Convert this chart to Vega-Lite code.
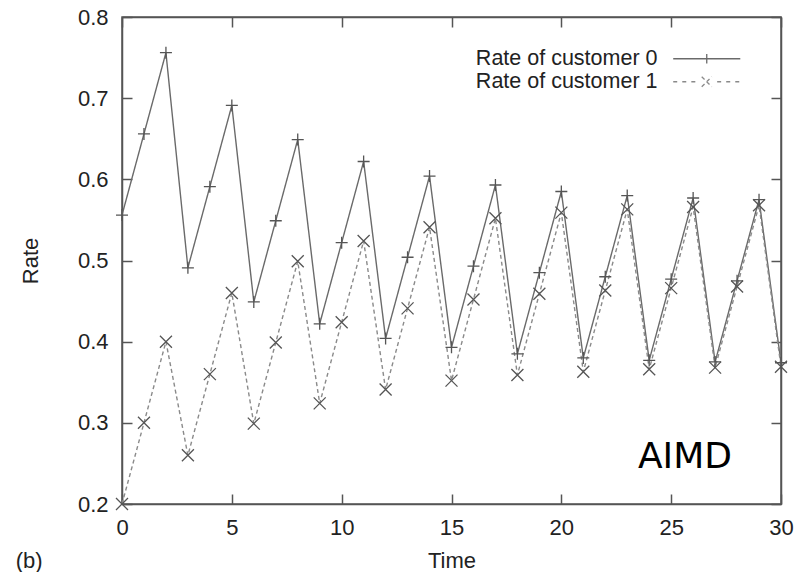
{
  "$schema": "https://vega.github.io/schema/vega-lite/v6.json",
  "width": 659,
  "height": 487,
  "autosize": {"type": "none"},
  "padding": {"left": 122, "top": 17, "right": 21, "bottom": 68},
  "background": "white",
  "config": {
    "view": {"stroke": "#555555", "strokeWidth": 1.5},
    "axis": {
      "grid": false,
      "labelFlush": false,
      "domainColor": "#555555",
      "domainWidth": 1.5,
      "tickColor": "#555555",
      "tickWidth": 1.5,
      "labelFont": "Liberation Sans",
      "labelFontSize": 22,
      "labelColor": "#222222",
      "titleFont": "Liberation Sans",
      "titleFontSize": 22,
      "titleFontWeight": "normal",
      "titleColor": "#222222"
    }
  },
  "datasets": {
    "rates": [
      {"t": 0, "rate": 0.556, "series": "Rate of customer 0"},
      {"t": 1, "rate": 0.656, "series": "Rate of customer 0"},
      {"t": 2, "rate": 0.756, "series": "Rate of customer 0"},
      {"t": 3, "rate": 0.491, "series": "Rate of customer 0"},
      {"t": 4, "rate": 0.591, "series": "Rate of customer 0"},
      {"t": 5, "rate": 0.691, "series": "Rate of customer 0"},
      {"t": 6, "rate": 0.449, "series": "Rate of customer 0"},
      {"t": 7, "rate": 0.549, "series": "Rate of customer 0"},
      {"t": 8, "rate": 0.649, "series": "Rate of customer 0"},
      {"t": 9, "rate": 0.422, "series": "Rate of customer 0"},
      {"t": 10, "rate": 0.522, "series": "Rate of customer 0"},
      {"t": 11, "rate": 0.622, "series": "Rate of customer 0"},
      {"t": 12, "rate": 0.404, "series": "Rate of customer 0"},
      {"t": 13, "rate": 0.504, "series": "Rate of customer 0"},
      {"t": 14, "rate": 0.604, "series": "Rate of customer 0"},
      {"t": 15, "rate": 0.393, "series": "Rate of customer 0"},
      {"t": 16, "rate": 0.493, "series": "Rate of customer 0"},
      {"t": 17, "rate": 0.593, "series": "Rate of customer 0"},
      {"t": 18, "rate": 0.385, "series": "Rate of customer 0"},
      {"t": 19, "rate": 0.485, "series": "Rate of customer 0"},
      {"t": 20, "rate": 0.585, "series": "Rate of customer 0"},
      {"t": 21, "rate": 0.380, "series": "Rate of customer 0"},
      {"t": 22, "rate": 0.480, "series": "Rate of customer 0"},
      {"t": 23, "rate": 0.580, "series": "Rate of customer 0"},
      {"t": 24, "rate": 0.377, "series": "Rate of customer 0"},
      {"t": 25, "rate": 0.477, "series": "Rate of customer 0"},
      {"t": 26, "rate": 0.577, "series": "Rate of customer 0"},
      {"t": 27, "rate": 0.375, "series": "Rate of customer 0"},
      {"t": 28, "rate": 0.475, "series": "Rate of customer 0"},
      {"t": 29, "rate": 0.575, "series": "Rate of customer 0"},
      {"t": 30, "rate": 0.374, "series": "Rate of customer 0"},
      {"t": 0, "rate": 0.200, "series": "Rate of customer 1"},
      {"t": 1, "rate": 0.300, "series": "Rate of customer 1"},
      {"t": 2, "rate": 0.400, "series": "Rate of customer 1"},
      {"t": 3, "rate": 0.260, "series": "Rate of customer 1"},
      {"t": 4, "rate": 0.360, "series": "Rate of customer 1"},
      {"t": 5, "rate": 0.460, "series": "Rate of customer 1"},
      {"t": 6, "rate": 0.299, "series": "Rate of customer 1"},
      {"t": 7, "rate": 0.399, "series": "Rate of customer 1"},
      {"t": 8, "rate": 0.499, "series": "Rate of customer 1"},
      {"t": 9, "rate": 0.324, "series": "Rate of customer 1"},
      {"t": 10, "rate": 0.424, "series": "Rate of customer 1"},
      {"t": 11, "rate": 0.524, "series": "Rate of customer 1"},
      {"t": 12, "rate": 0.341, "series": "Rate of customer 1"},
      {"t": 13, "rate": 0.441, "series": "Rate of customer 1"},
      {"t": 14, "rate": 0.541, "series": "Rate of customer 1"},
      {"t": 15, "rate": 0.352, "series": "Rate of customer 1"},
      {"t": 16, "rate": 0.452, "series": "Rate of customer 1"},
      {"t": 17, "rate": 0.552, "series": "Rate of customer 1"},
      {"t": 18, "rate": 0.359, "series": "Rate of customer 1"},
      {"t": 19, "rate": 0.459, "series": "Rate of customer 1"},
      {"t": 20, "rate": 0.559, "series": "Rate of customer 1"},
      {"t": 21, "rate": 0.363, "series": "Rate of customer 1"},
      {"t": 22, "rate": 0.463, "series": "Rate of customer 1"},
      {"t": 23, "rate": 0.563, "series": "Rate of customer 1"},
      {"t": 24, "rate": 0.366, "series": "Rate of customer 1"},
      {"t": 25, "rate": 0.466, "series": "Rate of customer 1"},
      {"t": 26, "rate": 0.566, "series": "Rate of customer 1"},
      {"t": 27, "rate": 0.368, "series": "Rate of customer 1"},
      {"t": 28, "rate": 0.468, "series": "Rate of customer 1"},
      {"t": 29, "rate": 0.568, "series": "Rate of customer 1"},
      {"t": 30, "rate": 0.369, "series": "Rate of customer 1"}
    ],
    "notes": [
      {"note": "AIMD"}
    ],
    "panel": [
      {"note": "(b)"}
    ]
  },
  "layer": [
    {
      "data": {"name": "rates"},
      "mark": {"type": "line", "strokeWidth": 1.4},
      "encoding": {
        "x": {
          "field": "t",
          "type": "quantitative",
          "scale": {"domain": [0, 30], "nice": false, "zero": false},
          "axis": {
            "orient": "bottom",
            "title": "Time",
            "values": [0, 5, 10, 15, 20, 25, 30],
            "format": "d",
            "labelFlush": false,
            "tickSize": -10,
            "labelPadding": 23,
            "titlePadding": 12
          }
        },
        "y": {
          "field": "rate",
          "type": "quantitative",
          "scale": {"domain": [0.2, 0.8], "nice": false, "zero": false},
          "axis": {
            "orient": "left",
            "title": "Rate",
            "values": [0.2, 0.3, 0.4, 0.5, 0.6, 0.7, 0.8],
            "format": ".1f",
            "labelFlush": false,
            "tickSize": -10,
            "labelPadding": 24,
            "titlePadding": 35
          }
        },
        "color": {
          "field": "series",
          "type": "nominal",
          "scale": {"range": ["#6a6a6a", "#8a8a8a"]},
          "legend": {
            "orient": "none",
            "legendX": 574,
            "legendY": 31,
            "title": null,
            "padding": 0,
            "rowPadding": 0,
            "labelFont": "Liberation Sans",
            "labelFontSize": 21.5,
            "labelColor": "#222222",
            "labelAlign": "right",
            "labelOffset": -60,
            "labelLimit": 0,
            "symbolType": "stroke",
            "symbolSize": 180,
            "symbolStrokeWidth": 1.3,
            "encode": {
              "symbols": {
                "update": {
                  "shape": {"signal": "datum.value === 'Rate of customer 0' ? 'M-5,0L5,0M0,-0.7L0,0.7' : 'M-5,0L-4.25,0M-3.65,0L-2.9,0M-2.3,0L-1.55,0M1.55,0L2.3,0M2.9,0L3.65,0M4.25,0L5,0M-0.75,-0.75L0.75,0.75M-0.75,0.75L0.75,-0.75'"},
                  "strokeDash": {"value": []},
                  "fill": {"value": "transparent"}
                }
              }
            }
          }
        },
        "strokeDash": {
          "field": "series",
          "type": "nominal",
          "scale": {"range": [[1, 0], [4, 3]]},
          "legend": null
        }
      }
    },
    {
      "data": {"name": "rates"},
      "mark": {"type": "point", "filled": false, "size": 144, "strokeWidth": 1.3, "color": "#555555", "opacity": 1},
      "encoding": {
        "x": {
          "field": "t",
          "type": "quantitative",
          "scale": {"domain": [0, 30], "nice": false, "zero": false},
          "axis": {
            "orient": "top",
            "title": null,
            "labels": false,
            "values": [0, 5, 10, 15, 20, 25, 30],
            "tickSize": -10
          }
        },
        "y": {
          "field": "rate",
          "type": "quantitative",
          "scale": {"domain": [0.2, 0.8], "nice": false, "zero": false},
          "axis": {
            "orient": "right",
            "title": null,
            "labels": false,
            "values": [0.2, 0.3, 0.4, 0.5, 0.6, 0.7, 0.8],
            "tickSize": -10
          }
        },
        "shape": {
          "field": "series",
          "type": "nominal",
          "scale": {"range": ["M-1,0L1,0M0,-1L0,1", "M-1,-1L1,1M-1,1L1,-1"]},
          "legend": null
        }
      }
    },
    {
      "data": {"name": "notes"},
      "mark": {"type": "text", "font": "DejaVu Sans", "fontSize": 36, "fontWeight": "normal", "fill": "#000000", "align": "center", "baseline": "middle"},
      "encoding": {
        "text": {"field": "note"},
        "x": {"datum": 25.63, "type": "quantitative", "axis": null},
        "y": {"datum": 0.258, "type": "quantitative", "axis": null}
      }
    },
    {
      "data": {"name": "panel"},
      "mark": {"type": "text", "font": "Liberation Sans", "fontSize": 22, "fontWeight": "normal", "fill": "#222222", "align": "center", "baseline": "middle", "clip": false},
      "encoding": {
        "text": {"field": "note"},
        "x": {"datum": -4.23, "type": "quantitative", "axis": null},
        "y": {"datum": 0.13, "type": "quantitative", "axis": null}
      }
    }
  ],
  "resolve": {"axis": {"x": "independent", "y": "independent"}}
}
